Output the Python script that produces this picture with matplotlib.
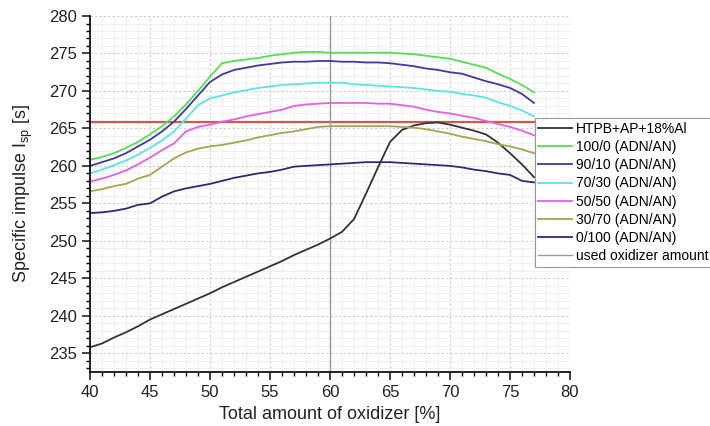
import numpy as np
import matplotlib
matplotlib.use('Agg')
import matplotlib.pyplot as plt
from matplotlib.ticker import MultipleLocator

plt.rcParams['font.family'] = ['Liberation Sans', 'DejaVu Sans']

# Oxidizer content [%]
oxidizer = list(range(40, 78))

# Specific impulse [s] for each formulation
htpb = [235.8, 236.3, 237.1, 237.8, 238.6, 239.5, 240.2, 240.9, 241.6, 242.3,
        243.0, 243.8, 244.5, 245.2, 245.9, 246.6, 247.3, 248.1, 248.8, 249.5,
        250.3, 251.2, 252.9, 256.3, 259.8, 263.2, 264.8, 265.4, 265.7, 265.8,
        265.5, 265.1, 264.7, 264.2, 263.1, 261.7, 260.2, 258.5]
adn100 = [260.8, 261.2, 261.7, 262.4, 263.2, 264.2, 265.3, 266.6, 268.2, 270.0,
          271.9, 273.7, 274.0, 274.2, 274.4, 274.7, 274.9, 275.1, 275.2, 275.2,
          275.1, 275.1, 275.1, 275.1, 275.1, 275.1, 275.0, 274.9, 274.7, 274.5,
          274.3, 273.9, 273.5, 273.1, 272.3, 271.6, 270.8, 269.8]
adn90 = [260.0, 260.5, 261.0, 261.7, 262.6, 263.5, 264.6, 265.9, 267.6, 269.4,
         271.2, 272.2, 272.8, 273.1, 273.4, 273.6, 273.8, 273.9, 273.9, 274.0,
         274.0, 273.9, 273.9, 273.8, 273.8, 273.7, 273.5, 273.3, 273.0, 272.8,
         272.5, 272.3, 271.8, 271.3, 270.9, 270.4, 269.6, 268.4]
adn70 = [259.0, 259.5, 260.1, 260.7, 261.5, 262.4, 263.4, 264.6, 266.3, 268.1,
         269.0, 269.4, 269.8, 270.1, 270.4, 270.6, 270.8, 270.9, 271.0, 271.1,
         271.1, 271.1, 270.9, 270.8, 270.7, 270.6, 270.5, 270.4, 270.2, 270.0,
         269.9, 269.6, 269.4, 269.1, 268.5, 268.0, 267.4, 266.6]
adn50 = [257.9, 258.3, 258.8, 259.4, 260.2, 261.1, 262.1, 263.0, 264.6, 265.2,
         265.5, 265.9, 266.2, 266.6, 266.9, 267.2, 267.5, 268.0, 268.2, 268.3,
         268.4, 268.4, 268.4, 268.4, 268.3, 268.3, 268.1, 267.9, 267.5, 267.2,
         267.0, 266.7, 266.4, 266.0, 265.6, 265.2, 264.7, 264.1]
adn30 = [256.6, 256.9, 257.3, 257.6, 258.3, 258.8, 259.9, 261.0, 261.8, 262.3,
         262.6, 262.8, 263.1, 263.4, 263.8, 264.1, 264.4, 264.6, 264.9, 265.2,
         265.3, 265.3, 265.3, 265.3, 265.3, 265.3, 265.2, 265.1, 264.9, 264.6,
         264.3, 263.9, 263.6, 263.3, 262.9, 262.6, 262.2, 261.7]
adn0 = [253.7, 253.8, 254.0, 254.3, 254.8, 255.0, 255.9, 256.6, 257.0, 257.3,
        257.6, 258.0, 258.4, 258.7, 259.0, 259.2, 259.5, 259.9, 260.0, 260.1,
        260.2, 260.3, 260.4, 260.5, 260.5, 260.5, 260.4, 260.3, 260.2, 260.1,
        260.0, 259.8, 259.5, 259.3, 259.0, 258.8, 258.0, 257.8]

labels = ['HTPB+AP+18%Al', '100/0 (ADN/AN)', '90/10 (ADN/AN)', '70/30 (ADN/AN)',
          '50/50 (ADN/AN)', '30/70 (ADN/AN)', '0/100 (ADN/AN)']
colors = ['#333333', '#55dd55', '#3c3c9c', '#5ce3e3', '#e262e2', '#a5a552', '#2c2c74']

used_oxidizer = 60
reference_isp = 265.8

fig = plt.figure(figsize=(7.1, 4.26), dpi=100)
ax = fig.add_axes([0.1268, 0.1268, 0.676, 0.8356])

series = [htpb, adn100, adn90, adn70, adn50, adn30, adn0]
for ys, lab, col in zip(series, labels, colors):
    ax.plot(oxidizer, ys, color=col, lw=1.3, label=lab)

ax.axhline(reference_isp, color='#d9534f', lw=1.6, zorder=1)
ax.axvline(used_oxidizer, color='#999999', lw=1.0, label='used oxidizer amount', zorder=1)

ax.set_xlim(40, 80)
ax.set_ylim(232.5, 280)
ax.xaxis.set_major_locator(MultipleLocator(5))
ax.xaxis.set_minor_locator(MultipleLocator(1))
ax.yaxis.set_major_locator(MultipleLocator(5))
ax.yaxis.set_minor_locator(MultipleLocator(1))

ax.grid(which='major', color='#cccccc', ls=(0, (2, 2)), lw=0.8)
ax.grid(which='minor', color='#eeeeee', ls='-', lw=0.6)
ax.set_axisbelow(True)

for s in ['top', 'right']:
    ax.spines[s].set_visible(False)
ax.spines['left'].set_linewidth(1.2)
ax.spines['bottom'].set_linewidth(1.2)
ax.tick_params(which='major', direction='out', length=6, width=1.2, labelsize=12, colors='#222222')
ax.tick_params(which='minor', direction='out', length=3, width=1.0)

ax.set_xlabel('Total amount of oxidizer [%]', fontsize=13, color='#222222', labelpad=4)
ax.set_ylabel('Specific impulse I$_{\\mathregular{sp}}$ [s]', fontsize=13, color='#222222', labelpad=10)

leg = ax.legend(loc='upper left', bbox_to_anchor=(0.7535, 0.722), bbox_transform=fig.transFigure,
                fontsize=10, frameon=True, fancybox=False, framealpha=1,
                handlelength=2.4, handletextpad=0.3, labelspacing=0.3,
                borderpad=0.25, borderaxespad=0)
leg.get_frame().set_edgecolor('#999999')
leg.get_frame().set_linewidth(0.8)

fig.savefig('out.png', dpi=100)
